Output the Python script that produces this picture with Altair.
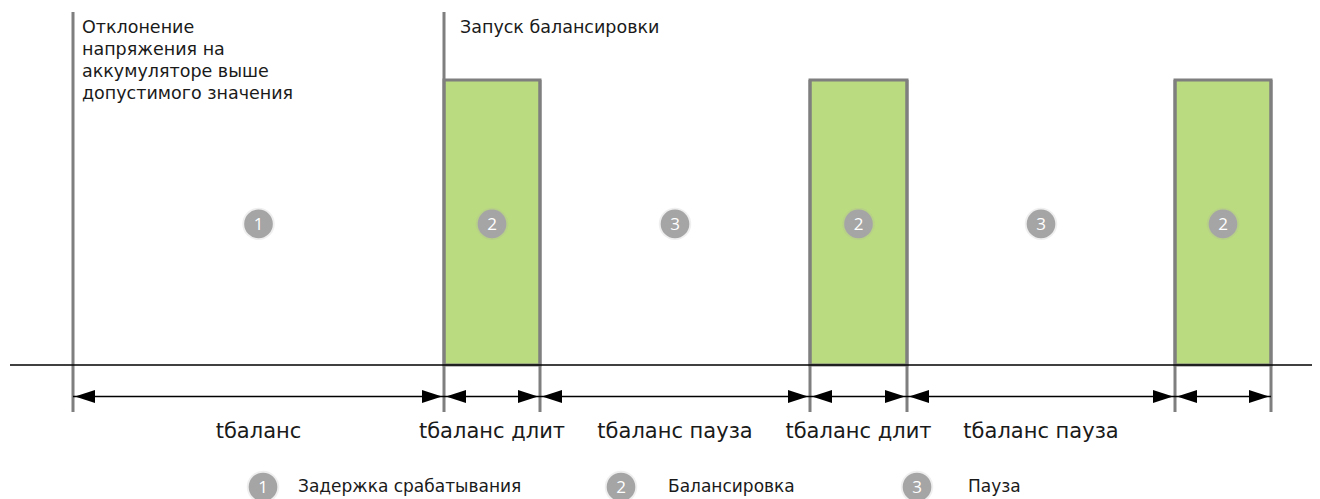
import altair as alt
import pandas as pd

# ---- data (time units, signal levels) ----
event_t = [0.0, 37.1, 46.7, 73.7, 83.4, 110.2, 119.8]
event_top = [1.239, 1.239, 1.0, 1.0, 1.0, 1.0, 1.0]
bar_start = [37.1, 73.7, 110.2]
bar_end = [46.7, 83.4, 119.8]
bar_level = [1.0, 1.0, 1.0]
phase_num = ["1", "2", "3", "2", "3", "2"]
phase_label = ["tбаланс", "tбаланс длит", "tбаланс пауза", "tбаланс длит", "tбаланс пауза", ""]
legend_num = ["1", "2", "3"]
legend_text = ["Задержка срабатывания", "Балансировка", "Пауза"]
legend_t = [19.0, 54.8, 84.4]
legend_text_t = [22.5, 59.5, 89.5]
annot_deviation = "Отклонение\nнапряжения на\nаккумуляторе выше\nдопустимого значения"
annot_start = "Запуск балансировки"

# ---- layout constants ----
LINE_BOTTOM = -0.165
ARROW_Y = -0.1105
LABEL_Y = -0.235
CIRCLE_Y = 0.495
LEGEND_Y = -0.428
AXIS_START = -6.3
AXIS_END = 123.9
FONT = "DejaVu Sans"
GREY = "#7f7f7f"
TEXT = "#1a1a1a"

xs = alt.Scale(domain=[-6.5, 123.9], nice=False, zero=False)
# plot area 491 px tall: top at image y=8, bottom at 499
ys = alt.Scale(domain=[-0.4702, 1.2526], nice=False, zero=False)

events = pd.DataFrame({"t": event_t, "top": event_top, "bottom": LINE_BOTTOM})
bars = pd.DataFrame({"s": bar_start, "e": bar_end, "lvl": bar_level, "b": 0.0})
seg = pd.DataFrame({
    "s": event_t[:-1], "e": event_t[1:],
    "num": phase_num, "label": phase_label,
})
seg["mid"] = (seg["s"] + seg["e"]) / 2
seg["y"] = ARROW_Y
seg["cy"] = CIRCLE_Y
seg["ly"] = LABEL_Y
leg = pd.DataFrame({"t": legend_t, "tt": legend_text_t, "num": legend_num,
                    "txt": legend_text, "y": LEGEND_Y})
axis_df = pd.DataFrame({"a": [AXIS_START], "b": [AXIS_END], "y": [0.0]})
ann = pd.DataFrame({"t": [event_t[0], event_t[1]],
                    "txt": [annot_deviation, annot_start],
                    "y": [event_top[0], event_top[1]]})

X = lambda f: alt.X(f, type="quantitative", scale=xs, axis=None)
Y = lambda f: alt.Y(f, type="quantitative", scale=ys, axis=None)

bar_layer = alt.Chart(bars).mark_rect(fill="#bbdb80", stroke=GREY, strokeWidth=3).encode(
    x=X("s"), x2="e", y=Y("b"), y2="lvl")

rules = alt.Chart(events).mark_rule(color=GREY, strokeWidth=3).encode(
    x=X("t"), y=Y("top"), y2="bottom")

baseline = alt.Chart(axis_df).mark_rule(color="black", strokeWidth=1.4).encode(
    x=X("a"), x2="b", y=Y("y"))

shafts = alt.Chart(seg).mark_rule(color="black", strokeWidth=1.4).encode(
    x=X("s"), x2="e", y=Y("y"))

head_left = alt.Chart(seg).mark_point(
    shape="M0,0 L2,-0.65 L2,0.65 Z", filled=True, color="black", opacity=1, size=400,
    strokeWidth=0).encode(x=X("s"), y=Y("y"), xOffset=alt.value(2))
head_right = alt.Chart(seg).mark_point(
    shape="M0,0 L-2,-0.65 L-2,0.65 Z", filled=True, color="black", opacity=1, size=400,
    strokeWidth=0).encode(x=X("e"), y=Y("y"), xOffset=alt.value(-2))


def badge(df, xf, yf):
    glow = alt.Chart(df).mark_point(shape="circle", filled=True, color="#a5a5a5",
                                    opacity=0.18, size=1050, strokeWidth=0).encode(
        x=X(xf), y=Y(yf))
    disc = alt.Chart(df).mark_point(shape="circle", filled=True, color="#a5a5a5",
                                    opacity=1, size=820, strokeWidth=0).encode(
        x=X(xf), y=Y(yf))
    num = alt.Chart(df).mark_text(color="white", fontSize=17, font="Open Sans", dy=1).encode(
        x=X(xf), y=Y(yf), text="num:N")
    return [glow, disc, num]


labels = alt.Chart(seg).mark_text(color=TEXT, fontSize=21, font=FONT).encode(
    x=X("mid"), y=Y("ly"), text="label:N")

leg_text = alt.Chart(leg).mark_text(color=TEXT, fontSize=17, font=FONT, align="left").encode(
    x=X("tt"), y=Y("y"), text="txt:N")

ann_dev = alt.Chart(ann.iloc[[0]]).mark_text(
    color=TEXT, fontSize=17.5, font=FONT, align="left", baseline="top",
    lineBreak="\n", lineHeight=22, dx=9, dy=7).encode(x=X("t"), y=Y("y"), text="txt:N")
ann_start = alt.Chart(ann.iloc[[1]]).mark_text(
    color=TEXT, fontSize=17.5, font=FONT, align="left", baseline="top",
    dx=16, dy=7).encode(x=X("t"), y=Y("y"), text="txt:N")

chart = alt.layer(
    bar_layer, rules, baseline, shafts, head_left, head_right,
    *badge(seg, "mid", "cy"), labels, *badge(leg, "t", "y"), leg_text, ann_dev, ann_start,
).properties(
    width=1304, height=491, padding=0, autosize=alt.AutoSizeParams(type="none")
).configure_view(stroke=None)

chart.save("out.html", embed_options={"renderer": "svg", "actions": False})
